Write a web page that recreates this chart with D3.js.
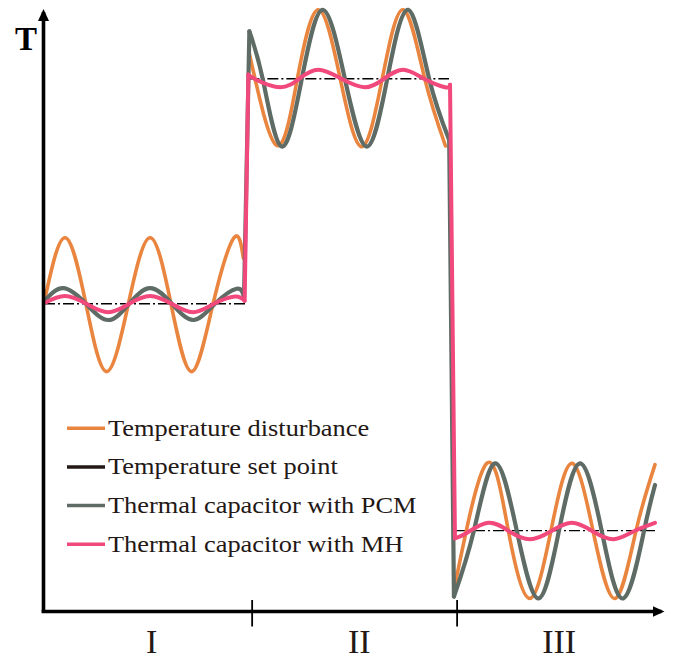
<!DOCTYPE html>
<html>
<head>
<meta charset="utf-8">
<script src="https://cdn.jsdelivr.net/npm/d3@7/dist/d3.min.js"></script>
<style>
  html, body { margin: 0; padding: 0; background: #fff; }
  svg { display: block; }
  text { font-family: "Liberation Serif", "Times New Roman", serif; fill: #231815; }
</style>
</head>
<body>
<svg id="chart" width="673" height="661"></svg>
<script>
// ---------- data (time t in 0..300, temperature T in 0..100, arbitrary units) ----------
const stageBounds = [100.8, 200.3];
const stageLabels = ["I", "II", "III"];
const stageLabelPos = [52.3, 153.1, 250.1];

const seriesNames = ["Temperature disturbance", "Temperature set point",
                     "Thermal capacitor with PCM", "Thermal capacitor with MH"];
const seriesColors = ["#E9853F", "#231815", "#5F6C66", "#F2497D"];

// set point per stage: [tStart, tEnd, T]
const setPoint = [[0, 97.6, 51.2], [99.2, 196.6, 88.7], [199.5, 296.6, 13.4]];

// temperature disturbance, one array per stage
const disturbanceI = [[0,51.3],[10.2,62.2],[20.4,51.1],[30.4,39.9],[40.9,51.1],[51.5,62.2],
  [61.7,51.1],[71.7,39.9],[82.0,51.1],[92.2,62.2],[96.8,58.8]];
const disturbanceII = [[99.5,93.2],[113.0,77.6],[123.1,88.9],[133.2,100.2],[143.7,88.9],
  [154.2,77.4],[164.3,88.9],[174.4,100.2],[184.7,88.9],[194.9,77.5]];
const disturbanceIII = [[199.5,4.3],[214.9,24.6],[225.4,13.4],[235.9,2.1],[246.1,13.4],
  [256.2,24.6],[266.5,13.4],[277.2,2.1],[287.4,13.4],[296.6,24.4]];

// thermal capacitor with PCM
const pcmI = [[0,51.6],[9.4,53.8],[20.4,51.2],[31.2,48.5],[41.3,51.2],[51.5,53.8],
  [62.1,51.2],[72.5,48.5],[83.0,51.2],[93.5,53.7],[97.1,52.3]];
const pcmII = [[99.7,96.6],[106.3,88.5],[115.4,77.4],[125.2,88.8],[135.3,100.2],[146.0,88.8],
  [156.7,77.4],[166.7,88.8],[176.8,100.2],[186.9,88.8],[196.7,78.5]];
const pcmIII = [[199.0,2.4],[208.7,13.4],[218.9,24.6],[229.5,13.4],[240.0,2.1],[250.0,13.4],
  [260.2,24.6],[270.7,13.4],[281.2,2.1],[291.3,13.4],[296.6,21.0]];

// thermal capacitor with MH
const mhI = [[0,51.3],[10.2,52.5],[20.6,51.2],[31.2,49.8],[41.3,51.2],[51.5,52.5],
  [61.9,51.2],[72.3,49.8],[82.5,51.2],[92.7,52.4],[97.4,51.7]];
const mhII = [[99.2,89.4],[103.3,88.5],[114.6,87.3],[123.8,88.7],[133.2,90.2],[144.4,88.7],
  [155.8,87.3],[165.0,88.7],[174.4,90.2],[184.5,88.7],[194.7,87.3],[197.1,87.7]];
const mhIII = [[199.5,12.1],[205.2,13.0],[215.7,14.7],[225.7,13.3],[235.9,11.95],[246.1,13.3],
  [256.2,14.7],[266.3,13.3],[276.4,11.95],[286.4,13.3],[296.6,14.7]];

// ---------- drawing ----------
const svg = d3.select("#chart");
svg.append("rect").attr("width", 673).attr("height", 661).attr("fill", "#fff");

const x = d3.scaleLinear().domain([0, 300]).range([44, 662]);
const y = d3.scaleLinear().domain([0, 100]).range([611, 11]);

const defs = svg.append("defs");
defs.append("marker").attr("id", "arrow")
  .attr("viewBox", "0 0 12 11").attr("markerUnits", "userSpaceOnUse")
  .attr("markerWidth", 12).attr("markerHeight", 11)
  .attr("refX", 9).attr("refY", 5.5).attr("orient", "auto")
  .append("path").attr("d", "M0,0L12,5.5L0,11Z").attr("fill", "#000");

const curve = d3.line().x(d => x(d[0])).y(d => y(d[1])).curve(d3.curveNatural);
const straight = d3.line().x(d => x(d[0])).y(d => y(d[1]));

// set point (dash-dot)
svg.append("g").selectAll("line").data(setPoint).join("line")
  .attr("x1", d => x(d[0])).attr("x2", d => x(d[1]))
  .attr("y1", d => y(d[2])).attr("y2", d => y(d[2]))
  .attr("stroke", "#000").attr("stroke-width", 1.4)
  .attr("stroke-dasharray", "11,3,2,3");

function drawSeries(pieces, color, width, connect) {
  const g = svg.append("g").attr("fill", "none").attr("stroke", color)
    .attr("stroke-width", width).attr("stroke-linecap", "round").attr("stroke-linejoin", "round");
  pieces.forEach((p, i) => {
    g.append("path").attr("d", curve(p));
    if (connect && i < pieces.length - 1) {
      g.append("path").attr("d", straight([p[p.length - 1], pieces[i + 1][0]]));
    }
  });
}
drawSeries([disturbanceI, disturbanceII, disturbanceIII], seriesColors[0], 3.6, false);
drawSeries([pcmI, pcmII, pcmIII], seriesColors[2], 4.2, true);
drawSeries([mhI, mhII, mhIII], seriesColors[3], 4, true);

// axes
const yAxis = svg.append("g")
  .call(d3.axisLeft(y).tickValues([]).tickSizeOuter(0));
yAxis.attr("transform", `translate(${x(0) - 0.5},0)`);
yAxis.select(".domain").attr("stroke", "#000").attr("stroke-width", 3.6)
  .attr("d", `M0,${y(0) + 1.8}V${y(100) + 1}`).attr("marker-end", "url(#arrow)");

const xAxis = svg.append("g").attr("transform", `translate(0,${y(0) + 0.5})`)
  .call(d3.axisBottom(x).tickValues(stageBounds).tickFormat("").tickSizeOuter(0).tickSizeInner(15));
xAxis.select(".domain").attr("stroke", "#000").attr("stroke-width", 3.6)
  .attr("d", `M${x(0) - 2.3},0H${x(300) - 0.5}`).attr("marker-end", "url(#arrow)");
xAxis.selectAll(".tick line").attr("y1", -11.5).attr("y2", 15).attr("stroke", "#000").attr("stroke-width", 1.8);

// stage labels
svg.append("g").selectAll("text").data(stageLabels).join("text")
  .attr("x", (d, i) => x(stageLabelPos[i])).attr("y", 653)
  .attr("text-anchor", "middle").attr("font-size", 34).text(d => d);

// y label
svg.append("text").attr("x", 15).attr("y", 50).attr("font-size", 33)
  .attr("font-weight", "bold").style("fill", "#000").text("T");

// legend
const legend = svg.append("g");
seriesNames.forEach((name, i) => {
  const yy = 435.7 + i * 38.7;
  legend.append("line").attr("x1", 67).attr("x2", 105)
    .attr("y1", yy - 7.5).attr("y2", yy - 7.5)
    .attr("stroke", seriesColors[i]).attr("stroke-width", 3.5);
  legend.append("text").attr("transform", `translate(108,${yy}) scale(1.1,1)`)
    .attr("font-size", 24).text(name);
});
</script>
</body>
</html>
